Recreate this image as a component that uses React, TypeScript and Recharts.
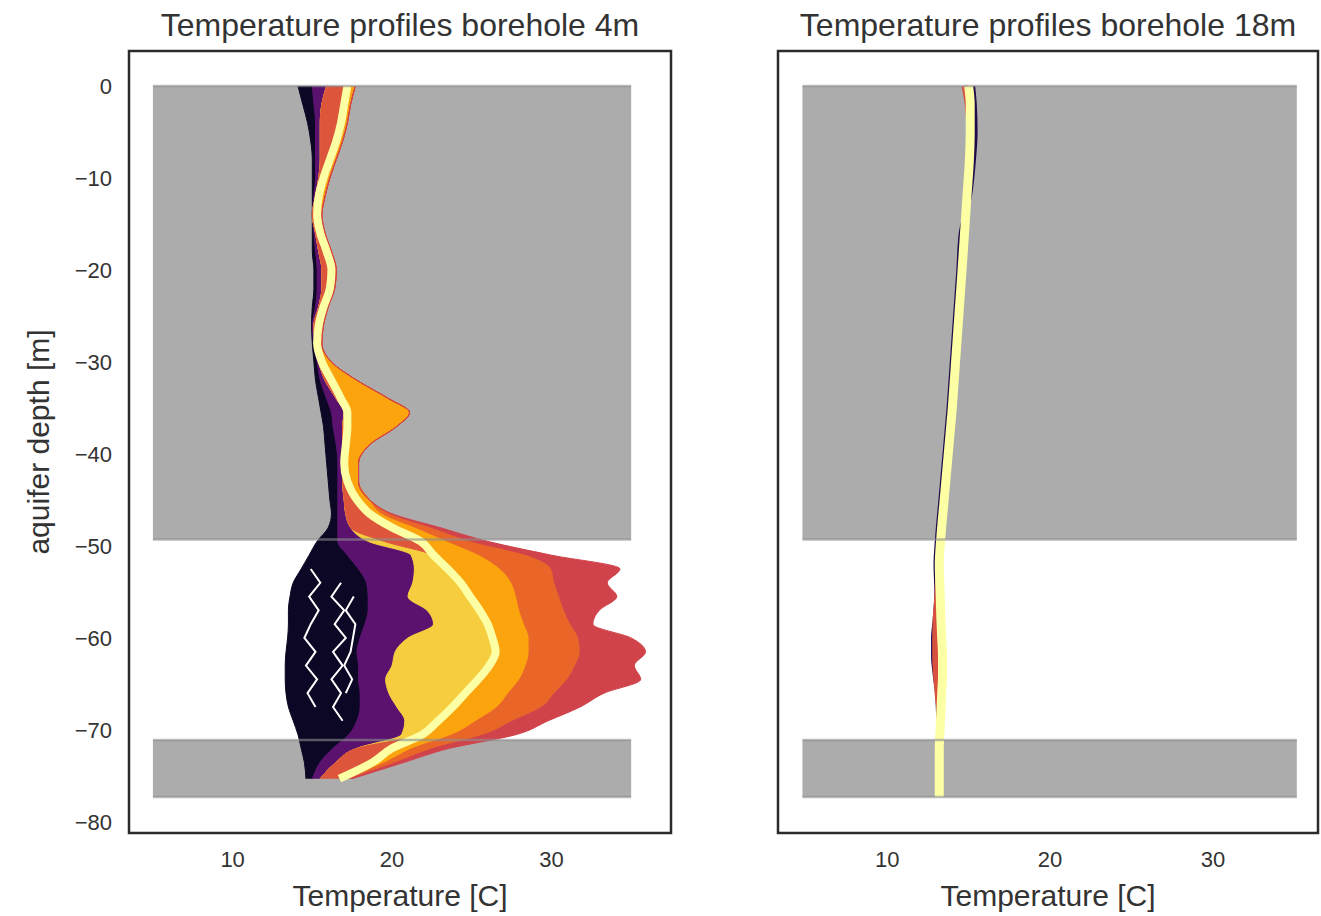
import { ComposedChart, Area, Line, XAxis, YAxis, ReferenceArea, ReferenceLine } from 'recharts'

// depth grid of the 4m borehole profiles [m]
const DEPTH = [
  0, -2, -4, -6, -8, -10, -12, -14, -16, -18,
  -20, -22, -24, -26, -28, -30, -32, -34, -35.5, -37,
  -39, -41, -43, -45, -46.5, -48, -49.5, -51, -52.5, -54,
  -55.5, -57, -58.5, -60, -61.5, -63, -64.5, -66, -67.5, -69,
  -70.5, -72, -73.5, -75.3,
]

// envelope edges of the profile families, temperature [C], left to right
const EDGE_COLD = [
  14.1, 14.4, 14.7, 14.9, 15.0, 15.0, 15.0, 15.0, 15.0, 15.0,
  15.1, 15.1, 15.0, 14.95, 15.0, 15.1, 15.2, 15.4, 15.55, 15.7,
  15.8, 15.9, 16.0, 16.1, 16.2, 16.0, 15.3, 14.8, 14.3, 13.8,
  13.6, 13.5, 13.5, 13.45, 13.35, 13.3, 13.3, 13.35, 13.5, 13.8,
  14.1, 14.3, 14.5, 14.6,
]
const EDGE_EARLY = [
  15.0, 15.1, 15.2, 15.2, 15.2, 15.2, 15.1, 15.0, 15.1, 15.2,
  15.3, 15.3, 15.2, 15.0, 15.1, 15.3, 15.5, 15.9, 16.2, 16.3,
  16.5, 16.6, 16.6, 16.6, 16.6, 16.6, 16.6, 17.2, 17.9, 18.4,
  18.5, 18.5, 18.3, 18.0, 17.8, 17.9, 17.9, 18.0, 18.0, 17.8,
  17.3, 16.3, 15.5, 15.0,
]
const EDGE_PURPLE = [
  15.9, 15.6, 15.5, 15.5, 15.5, 15.4, 15.2, 15.0, 15.2, 15.4,
  15.6, 15.6, 15.4, 15.1, 15.2, 15.4, 15.8, 16.5, 17.0, 16.9,
  16.9, 16.9, 16.9, 17.0, 17.1, 17.4, 18.5, 21.2, 21.4, 21.3,
  21.0, 22.2, 22.6, 21.0, 20.2, 20.0, 19.6, 19.8, 20.3, 20.8,
  20.6, 17.8, 16.5, 15.5,
]
const EDGE_LATE = [
  15.9, 15.6, 15.5, 15.5, 15.5, 15.4, 15.2, 15.0, 15.2, 15.4,
  15.6, 15.6, 15.4, 15.1, 15.2, 15.4, 15.8, 16.5, 17.0, 16.9,
  16.9, 16.9, 16.9, 17.0, 17.1, 17.4, 19.5, 22.6, 23.5, 24.3,
  24.9, 25.5, 26.0, 26.3, 26.5, 26.1, 25.4, 24.6, 23.8, 22.9,
  21.9, 17.8, 16.5, 15.5,
]
const FINAL_PROFILE = [
  17.2, 17.0, 16.8, 16.5, 16.1, 15.7, 15.4, 15.3, 15.5, 15.9,
  16.2, 16.1, 15.7, 15.4, 15.3, 15.6, 16.2, 16.8, 17.2, 17.2,
  17.1, 17.0, 17.2, 17.8, 18.6, 20.0, 21.8, 22.6, 23.5, 24.3,
  24.9, 25.5, 26.0, 26.3, 26.5, 26.1, 25.4, 24.6, 23.8, 22.9,
  21.9, 20.0, 18.8, 16.7,
]
const EDGE_ORANGE = [
  17.7, 17.4, 17.2, 16.9, 16.5, 16.1, 15.8, 15.6, 15.8, 16.2,
  16.5, 16.4, 16.0, 15.7, 15.6, 16.2, 17.8, 19.8, 21.1, 20.3,
  18.6, 17.9, 17.9, 18.6, 19.4, 21.5, 23.5, 25.5, 26.8, 27.5,
  27.8, 28.0, 28.3, 28.6, 28.6, 28.4, 28.0, 27.3, 26.6, 25.3,
  23.8, 21.3, 19.6, 17.1,
]
const EDGE_ORANGE_RED = [
  17.7, 17.4, 17.2, 16.9, 16.5, 16.1, 15.8, 15.6, 15.8, 16.2,
  16.5, 16.4, 16.0, 15.7, 15.6, 16.2, 17.8, 19.8, 21.1, 20.3,
  18.6, 17.9, 17.9, 18.6, 19.9, 22.5, 25.0, 28.5, 30.0, 30.2,
  30.5, 30.8, 31.2, 31.7, 31.8, 31.5, 31.0, 30.2, 29.4, 27.6,
  25.8, 22.6, 20.3, 17.3,
]
const EDGE_HOT = [
  17.7, 17.4, 17.2, 16.9, 16.5, 16.1, 15.8, 15.6, 15.8, 16.2,
  16.5, 16.4, 16.0, 15.7, 15.6, 16.2, 17.8, 19.8, 21.1, 20.3,
  18.6, 17.9, 17.9, 18.6, 20.0, 23.0, 26.0, 30.0, 34.3, 33.5,
  34.1, 33.0, 32.6, 35.0, 35.9, 35.2, 35.6, 33.3, 31.8, 29.8,
  27.8, 23.6, 20.8, 17.5,
]

// thin gaps between the earliest profiles in the aquifer
const GAP_A = [
  { d: -52.5, t: 14.9 }, { d: -54, t: 15.5 }, { d: -55.5, t: 14.8 }, { d: -57, t: 15.4 },
  { d: -58.5, t: 14.9 }, { d: -60, t: 14.5 }, { d: -61.5, t: 15.2 }, { d: -63, t: 14.6 },
  { d: -64.5, t: 15.3 }, { d: -66, t: 14.7 }, { d: -67.5, t: 15.2 },
]
const GAP_B = [
  { d: -54, t: 16.8 }, { d: -55.5, t: 16.2 }, { d: -57, t: 17.0 }, { d: -58.5, t: 16.4 },
  { d: -60, t: 17.1 }, { d: -61.5, t: 16.3 }, { d: -63, t: 16.9 }, { d: -64.5, t: 16.2 },
  { d: -66, t: 16.8 }, { d: -67.5, t: 16.3 }, { d: -69, t: 16.9 },
]
const GAP_C = [
  { d: -55.5, t: 17.6 }, { d: -57, t: 17.1 }, { d: -58.5, t: 17.7 },
  { d: -61.5, t: 17.4 }, { d: -63, t: 17.0 }, { d: -64.5, t: 17.5 }, { d: -66, t: 17.1 },
]

// 18m borehole
const DEPTH_18 = [
  0, -2, -5, -8, -12, -16, -20, -25, -30, -35,
  -40, -45, -49, -52, -55, -58, -60, -62, -64, -66,
  -68, -70, -72, -74, -77.3,
]
const EARLY_18 = [
  15.25, 15.35, 15.4, 15.3, 15.05, 14.55, 14.4, 14.2, 14.0, 13.8,
  13.55, 13.3, 13.1, 13.0, 13.05, 12.95, 12.85, 12.85, 12.95, 13.1,
  13.15, 13.2, 13.2, 13.2, 13.2,
]
const MID_18 = [
  14.75, 14.95, 15.05, 15.0, 14.85, 14.7, 14.55, 14.35, 14.15, 13.95,
  13.7, 13.45, 13.25, 13.15, 13.1, 12.98, 12.95, 12.95, 13.0, 13.1,
  13.2, 13.2, 13.2, 13.2, 13.2,
]
const FINAL_18 = [
  15.0, 15.1, 15.1, 15.05, 14.9, 14.75, 14.6, 14.4, 14.2, 14.0,
  13.75, 13.5, 13.3, 13.2, 13.25, 13.3, 13.35, 13.4, 13.4, 13.35,
  13.3, 13.25, 13.2, 13.2, 13.2,
]

// clay layers (grey bands), depth [m]
const LAYERS = [
  { top: 0, bottom: -49.3 },
  { top: -71.1, bottom: -77.3 },
]
const LAYER_X = [5, 35]
const LAYER_X_18 = [4.8, 35.15]

const DEPTH_TICKS = [0, -10, -20, -30, -40, -50, -60, -70, -80]
const TEMP_TICKS = [10, 20, 30]

const leftRows = DEPTH.map((d, i) => ({
  d,
  cold: EDGE_COLD[i],
  early: EDGE_EARLY[i],
  purple: EDGE_PURPLE[i],
  late: EDGE_LATE[i],
  final: FINAL_PROFILE[i],
  orange: EDGE_ORANGE[i],
  orangeRed: EDGE_ORANGE_RED[i],
  hot: EDGE_HOT[i],
}))

const rightRows = DEPTH_18.map((d, i) => ({
  d,
  early: EARLY_18[i],
  mid: MID_18[i],
  final: FINAL_18[i],
}))

const BANDS = [
  { lo: 'cold', hi: 'early', color: '#0b0724' },
  { lo: 'early', hi: 'purple', color: '#5a126e' },
  { lo: 'purple', hi: 'late', color: '#f6cd3f' },
  { lo: 'late', hi: 'final', color: '#dd553a' },
  { lo: 'final', hi: 'orange', color: '#fba40e' },
  { lo: 'orange', hi: 'orangeRed', color: '#ea6528' },
  { lo: 'orangeRed', hi: 'hot', color: '#d1434a' },
]

const TEXT = '#333333'
const FRAME = '#2b2b2b'
const GREY = '#acacac'
const GREY_EDGE = '#8e8e8e'
const FONT = '"Liberation Sans", Arial, sans-serif'

const LEFT_X = [3.5, 37.5]
const RIGHT_X = [3.3, 36.45]
const Y_DOMAIN = [-81.2, 3.8]

const minus = (v: number) => String(v).replace('-', '\u2212')

export default function App() {
  const tick = { fill: TEXT, fontSize: 22, fontFamily: FONT }

  return (
    <div style={{ position: 'absolute', left: 0, top: 0, width: 1321, height: 916, background: '#fff', fontFamily: FONT }}>
      <div style={{ position: 'absolute', left: 0, top: 0 }}>
        <ComposedChart layout="vertical" width={700} height={916} data={leftRows}
          margin={{ top: 51, right: 29, bottom: 0, left: 0 }}>
          <XAxis type="number" domain={LEFT_X} ticks={TEMP_TICKS} allowDataOverflow
            axisLine={false} tickLine={false} tickSize={0} tickMargin={18} height={83} tick={tick} />
          <YAxis type="number" dataKey="d" domain={Y_DOMAIN} ticks={DEPTH_TICKS} allowDataOverflow reversed
            tickFormatter={minus}
            axisLine={false} tickLine={false} tickSize={0} tickMargin={17} width={129} tick={tick} />
          {LAYERS.map((l) => (
            <ReferenceArea key={l.top} x1={LAYER_X[0]} x2={LAYER_X[1]} y1={l.top} y2={l.bottom}
              fill={GREY} fillOpacity={1} stroke="none" />
          ))}
          {BANDS.map((b) => (
            <Area key={b.hi} type="monotone" dataKey={(r: any) => [r[b.lo], r[b.hi]]}
              fill={b.color} fillOpacity={1} stroke={b.color} strokeWidth={1}
              dot={false} activeDot={false} isAnimationActive={false} />
          ))}
          {[GAP_A, GAP_B, GAP_C].map((g, i) => (
            <Line key={i} data={g} dataKey="t" type="linear" stroke="#ffffff" strokeWidth={2}
              dot={false} activeDot={false} isAnimationActive={false} />
          ))}
          <Line dataKey="final" type="monotone" stroke="#fcffa4" strokeWidth={8}
            dot={false} activeDot={false} isAnimationActive={false} />
          {LAYERS.flatMap((l) => [l.top, l.bottom]).map((y) => (
            <ReferenceLine key={y} segment={[{ x: LAYER_X[0], y }, { x: LAYER_X[1], y }]}
              stroke={GREY_EDGE} strokeOpacity={0.6} strokeWidth={2.5} />
          ))}
          <ReferenceArea x1={LEFT_X[0]} x2={LEFT_X[1]} y1={Y_DOMAIN[0]} y2={Y_DOMAIN[1]}
            fill="none" stroke={FRAME} strokeWidth={2.5} />
        </ComposedChart>
      </div>

      <div style={{ position: 'absolute', left: 700, top: 0 }}>
        <ComposedChart layout="vertical" width={621} height={916} data={rightRows}
          margin={{ top: 51, right: 3, bottom: 0, left: 78 }}>
          <XAxis type="number" domain={RIGHT_X} ticks={TEMP_TICKS} allowDataOverflow
            axisLine={false} tickLine={false} tickSize={0} tickMargin={18} height={83} tick={tick} />
          <YAxis type="number" dataKey="d" domain={Y_DOMAIN} allowDataOverflow reversed hide />
          {LAYERS.map((l) => (
            <ReferenceArea key={l.top} x1={LAYER_X_18[0]} x2={LAYER_X_18[1]} y1={l.top} y2={l.bottom}
              fill={GREY} fillOpacity={1} stroke="none" />
          ))}
          <Line dataKey="early" type="monotone" stroke="#1f0c48" strokeWidth={5}
            dot={false} activeDot={false} isAnimationActive={false} />
          <Line dataKey="mid" type="monotone" stroke="#d8503e" strokeWidth={6}
            dot={false} activeDot={false} isAnimationActive={false} />
          <Line dataKey="final" type="monotone" stroke="#fcffa4" strokeWidth={9}
            dot={false} activeDot={false} isAnimationActive={false} />
          {LAYERS.flatMap((l) => [l.top, l.bottom]).map((y) => (
            <ReferenceLine key={y} segment={[{ x: LAYER_X_18[0], y }, { x: LAYER_X_18[1], y }]}
              stroke={GREY_EDGE} strokeOpacity={0.6} strokeWidth={2.5} />
          ))}
          <ReferenceArea x1={RIGHT_X[0]} x2={RIGHT_X[1]} y1={Y_DOMAIN[0]} y2={Y_DOMAIN[1]}
            fill="none" stroke={FRAME} strokeWidth={2.5} />
        </ComposedChart>
      </div>

      <svg width={1321} height={916} style={{ position: 'absolute', left: 0, top: 0, pointerEvents: 'none' }}
        fontFamily={FONT} fill={TEXT}>
        <text x={400} y={36} fontSize={32} textAnchor="middle">Temperature profiles borehole 4m</text>
        <text x={1048} y={36} fontSize={32} textAnchor="middle">Temperature profiles borehole 18m</text>
        <text x={400} y={906} fontSize={30} textAnchor="middle">Temperature [C]</text>
        <text x={1048} y={906} fontSize={30} textAnchor="middle">Temperature [C]</text>
        <text x={38} y={442} fontSize={30} textAnchor="middle" dominantBaseline="central"
          transform="rotate(-90 38 442)">aquifer depth [m]</text>
      </svg>
    </div>
  )
}
